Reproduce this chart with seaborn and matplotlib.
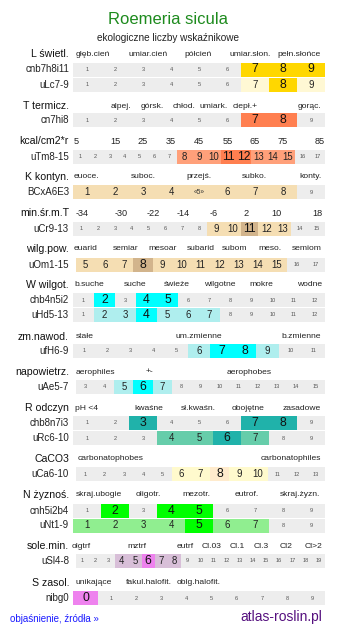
import numpy as np
import matplotlib
matplotlib.use("Agg")
import matplotlib.pyplot as plt
import seaborn as sns
from matplotlib.colors import ListedColormap

# ---------------- data ----------------
title = "Roemeria sicula"
subtitle = "ekologiczne liczby wskaźnikowe"

row_codes = ["cnb7h8i11", "uLc7-9", "cn7hi8", "uTm8-15", "BCxA6E3", "uCr9-13",
             "uOm1-15", "chb4n5i2", "uHd5-13", "ufH6-9", "uAe5-7", "chb8n7i3",
             "uRc6-10", "uCa6-10", "cnh5i2b4", "uNt1-9", "uSl4-8", "nibg0"]
row_first = [1, 1, 1, 1, 1, 1, 5, 1, 1, 1, 3, 1, 1, 1, 1, 1, 1, 0]
row_last = [9, 9, 9, 17, 9, 15, 17, 12, 12, 11, 15, 9, 9, 13, 9, 9, 19, 9]
row_light = [[], [7, 9], [], [8, 9, 10, 13, 14, 15], [1, 2, 3, 4, 5, 6, 7, 8],
             [9, 10, 12, 13], [5, 6, 7, 9, 10, 11, 12, 13, 14, 15], [],
             [2, 3, 5, 6, 7], [6, 9], [5, 7], [], [4, 5, 7], [6, 7, 9, 10],
             [], [1, 2, 3, 4, 6, 7], [4, 5, 7, 8], []]
row_strong = [[7, 8, 9], [8], [7, 8], [11, 12], [], [11], [8], [2, 4, 5], [4],
              [7, 8], [6], [3, 7, 8], [6], [8], [2, 4, 5], [5], [6], [0]]
row_small_marked = {"BCxA6E3": 5}   # shown as «5»

sections = ["L świetl.", "T termicz.", "kcal/cm2*r", "K kontyn.", "min.śr.m.T",
            "wilg.pow.", "W wilgot.", "zm.nawod.", "napowietrz.", "R odczyn",
            "CaCO3", "N żyznoś.", "sole.min.", "S zasol."]
L_labels = ["głęb.cień", "umiar.cień", "półcień", "umiar.słon.", "pełn.słońce"]
T_labels = ["alpej.", "górsk.", "chłod.", "umiark.", "ciepł.+", "gorąc."]
kcal_labels = ["5", "15", "25", "35", "45", "55", "65", "75", "85"]
K_labels = ["euoce.", "suboc.", "przejś.", "subko.", "konty."]
minT_labels = ["-34", "-30", "-22", "-14", "-6", "2", "10", "18"]
wilg_labels = ["euarid", "semiar", "mesoar", "subarid", "subom", "meso.", "semiom"]
W_labels = ["b.suche", "suche", "świeże", "wilgotne", "mokre", "wodne"]
zm_labels = ["stałe", "um.zmienne", "b.zmienne"]
napow_labels = ["aerophiles", "+-", "aerophobes"]
R_labels = ["pH <4", "kwaśne", "sł.kwaśn.", "obojętne", "zasadowe"]
Ca_labels = ["carbonatophobes", "carbonatophiles"]
N_labels = ["skraj.ubogie", "oligotr.", "mezotr.", "eutrof.", "skraj.żyzn."]
sole_labels = ["olgtrf", "mztrf", "eutrf", "Cl.03", "Cl.1", "Cl.3", "Cl2", "Cl>2"]
S_labels = ["unikające", "fakul.halofit.", "oblg.halofit."]
section_labels = [L_labels, T_labels, kcal_labels, K_labels, minT_labels,
                  wilg_labels, W_labels, zm_labels, napow_labels, R_labels,
                  Ca_labels, N_labels, sole_labels, S_labels]

# ---------------- layout / style ----------------
W, H = 337, 634
GRAY = "#EDEDED"
row_colors = [("#FFF8D4", "#FFD700"), ("#FFF8D4", "#FFD700"),
              ("#FFA07A", "#FF7F50"), ("#FFA07A", "#FF7F50"),
              ("#F5DEB3", "#D2B48C"), ("#F5DEB3", "#D2B48C"), ("#F5DEB3", "#D2B48C"),
              ("#AFEEEE", "#00FFFF"), ("#AFEEEE", "#00FFFF"), ("#AFEEEE", "#00FFFF"),
              ("#AFEEEE", "#00FFFF"),
              ("#66CDAA", "#20B2AA"), ("#66CDAA", "#20B2AA"),
              ("#FFFACD", "#FFEBCD"),
              ("#90EE90", "#00FF00"), ("#90EE90", "#00FF00"),
              ("#D8BFD8", "#EE82EE"), ("#D8BFD8", "#EE82EE")]
row_y = [69.5, 84.5, 120, 157, 192, 229, 264.5, 300, 315, 351, 387, 423, 438,
         474, 510.5, 525.5, 561, 598]
row_x0 = [73, 73, 73, 73, 73, 73, 76, 73, 73, 73, 76, 73, 73, 76, 73, 73, 76, 73]
ROW_X1 = 325
ROW_H = 14

section_y = [54, 106, 141, 177, 213, 249, 285, 337, 372, 408, 459, 495, 546, 583]
section_x = [
    [92.5, 148, 198, 250, 299],
    [120.5, 152, 184, 213.5, 245, 309],
    [76, 115, 143, 171, 199, 228, 255, 283, 319.5],
    [86.5, 143.5, 198.5, 254, 310],
    [82, 121, 153, 183, 214, 246, 276, 317],
    [85.5, 126, 162.5, 200.5, 234.5, 270, 307],
    [89.5, 135.5, 177, 220, 261.5, 310],
    [85, 199, 301],
    [95, 149.5, 249],
    [86.5, 149, 198.5, 248.5, 302],
    [110.5, 290.5],
    [98.5, 148.5, 196.5, 246.5, 300],
    [81.5, 136.5, 185, 211.5, 237, 261.5, 286, 313.5],
    [93.5, 149, 199],
]
numeric_sections = {"kcal/cm2*r", "min.śr.m.T"}

sns.set_theme(style="white")
plt.rcParams['font.family'] = ['Liberation Sans', 'DejaVu Sans']

fig = plt.figure(figsize=(W / 100, H / 100), dpi=100)
bg = fig.add_axes([0, 0, 1, 1])
bg.set_xlim(0, W)
bg.set_ylim(H, 0)
bg.axis('off')

bg.text(167.5, 20, title, ha='center', va='center', fontsize=12, color='#1E8B1E')
bg.text(168, 38, subtitle, ha='center', va='center', fontsize=7.2, color='#222222')

for name, labels, xs, y in zip(sections, section_labels, section_x, section_y):
    bg.text(69, y, name, ha='right', va='center', fontsize=7.6, color='#111111')
    fs = 6.6 if name in numeric_sections else 6.1
    for lab, x in zip(labels, xs):
        bg.text(x, y, lab, ha='center', va='center', fontsize=fs, color='#222222')

for i, code in enumerate(row_codes):
    vals = list(range(row_first[i], row_last[i] + 1))
    levels = np.array([[2 if v in row_strong[i] else (1 if v in row_light[i] else 0)
                        for v in vals]])
    light, strong = row_colors[i]
    x0 = row_x0[i]
    yc = row_y[i]
    ax = fig.add_axes([x0 / W, 1 - (yc + ROW_H / 2) / H, (ROW_X1 - x0) / W, ROW_H / H])
    sns.heatmap(levels, ax=ax, cmap=ListedColormap([GRAY, light, strong]),
                vmin=-0.5, vmax=2.5, cbar=False, xticklabels=False,
                yticklabels=False, linewidths=0)
    ax.axis('off')
    for j, v in enumerate(vals):
        lv = levels[0, j]
        if row_small_marked.get(code) == v:
            ax.text(j + 0.5, 0.5, "«%d»" % v, ha='center', va='center',
                    fontsize=4.8, color='#333333')
        elif lv == 2:
            ax.text(j + 0.5, 0.5, str(v), ha='center', va='center',
                    fontsize=8.8, color='#111111')
        elif lv == 1:
            ax.text(j + 0.5, 0.5, str(v), ha='center', va='center',
                    fontsize=6.9, color='#222222')
        else:
            ax.text(j + 0.5, 0.5, str(v), ha='center', va='center',
                    fontsize=4.1, color='#555555')
    bg.text(69, yc, code, ha='right', va='center', fontsize=7.0, color='#222222')

bg.text(10, 619, "objaśnienie, źródła »", ha='left', va='center', fontsize=7.0,
        color='#1A1AFF')
bg.text(322, 617, "atlas-roslin.pl", ha='right', va='center', fontsize=10,
        color='#55107F')

fig.savefig("out.png", dpi=100)
